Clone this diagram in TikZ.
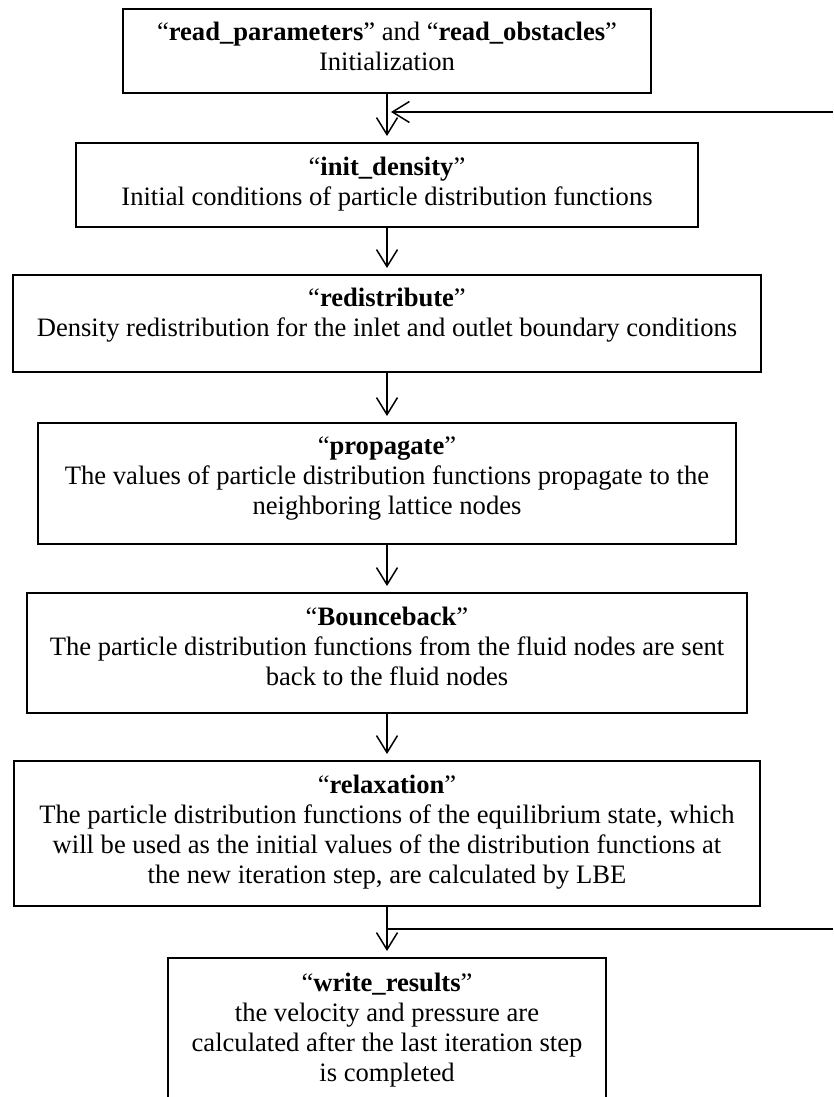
\documentclass[tikz,border=0pt]{standalone}
\usepackage{fontspec}
\setmainfont{Liberation Serif}
\usetikzlibrary{arrows.meta}
\begin{document}
\begin{tikzpicture}[x=1pt,y=-1pt,
  box/.style={draw=black, line width=1.8pt, rectangle, inner sep=0pt, anchor=north},
  txt/.style={anchor=north, align=center, inner sep=0pt, font=\fontsize{26.6}{30}\selectfont},
  arr/.style={line width=1.5pt, -{Straight Barb[length=17pt,width=21pt,line width=1.5pt]}, shorten >=6pt},
  link/.style={line width=1.5pt}]
\useasboundingbox (0,0) rectangle (833,1097);
% boxes
\node[box, minimum width=528pt, minimum height=84pt] (b1) at (387,8) {};
\node[box, minimum width=622pt, minimum height=84pt] (b2) at (387,142) {};
\node[box, minimum width=748pt, minimum height=97pt] (b3) at (387,274) {};
\node[box, minimum width=698pt, minimum height=121pt] (b4) at (387,422) {};
\node[box, minimum width=720pt, minimum height=120pt] (b5) at (387,592) {};
\node[box, minimum width=746pt, minimum height=145pt] (b6) at (387,760) {};
\node[box, minimum width=438pt, minimum height=170pt] (b7) at (387,957) {};
% texts
\node[txt] (t1) at ([yshift=-14pt]b1.north) {“\textbf{read\_parameters}” and “\textbf{read\_obstacles}”\\Initialization};
\node[txt] (t2) at ([yshift=-15pt]b2.north) {“\textbf{init\_density}”\\Initial conditions of particle distribution functions};
\node[txt] (t3) at ([yshift=-14pt]b3.north) {“\textbf{redistribute}”\\Density redistribution for the inlet and outlet boundary conditions};
\node[txt] (t4) at ([yshift=-15pt]b4.north) {“\textbf{propagate}”\\The values of particle distribution functions propagate to the\\neighboring lattice nodes};
\node[txt] (t5) at ([yshift=-15pt]b5.north) {“\textbf{Bounceback}”\\The particle distribution functions from the fluid nodes are sent\\back to the fluid nodes};
\node[txt] (t6) at ([yshift=-15pt]b6.north) {“\textbf{relaxation}”\\The particle distribution functions of the equilibrium state, which\\will be used as the initial values of the distribution functions at\\the new iteration step, are calculated by LBE};
\node[txt] (t7) at ([yshift=-16pt]b7.north) {“\textbf{write\_results}”\\the velocity and pressure are\\calculated after the last iteration step\\is completed};
% connectors
\draw[arr] (b1.south) -- (b2.north);
\draw[arr] (b2.south) -- (b3.north);
\draw[arr] (b3.south) -- (b4.north);
\draw[arr] (b4.south) -- (b5.north);
\draw[arr] (b5.south) -- (b6.north);
\draw[arr] (b6.south) -- (b7.north);
% feedback lines
\coordinate (r1) at (833,112);
\coordinate (r2) at (833,929);
\draw[arr, shorten >=4pt] (r1) -- (b1.south |- r1);
\draw[link] (b6.south |- r2) -- (r2);
\end{tikzpicture}
\end{document}
